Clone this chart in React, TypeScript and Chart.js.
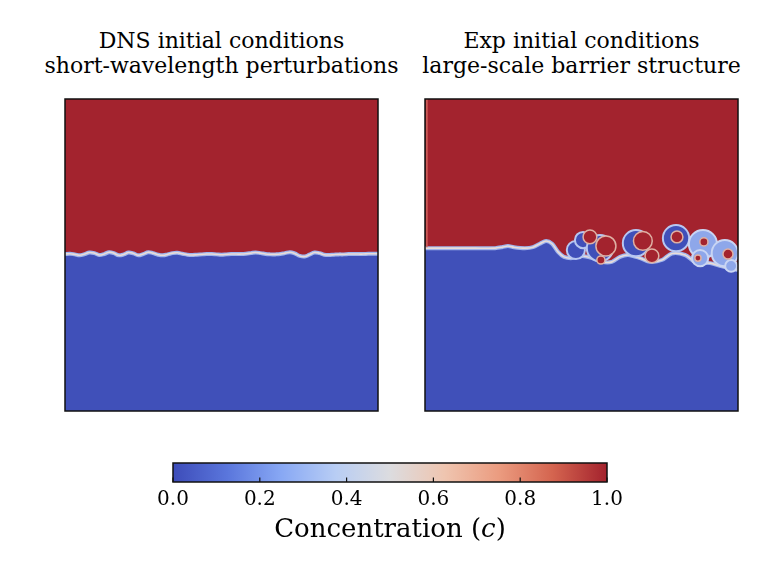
import React, { useEffect, useRef } from "react";
import { Chart, registerables } from "chart.js";

Chart.register(...registerables);

// ---------------- data ----------------
// DNS panel: interface height (fraction of domain height) along x
const dnsX = [
  0.0, 0.016, 0.031, 0.047, 0.063, 0.078, 0.094, 0.109, 0.125, 0.141, 0.156, 0.172, 0.188,
  0.203, 0.219, 0.234, 0.25, 0.266, 0.281, 0.297, 0.313, 0.328, 0.344, 0.359, 0.375, 0.391,
  0.406, 0.422, 0.438, 0.453, 0.469, 0.484, 0.5, 0.516, 0.531, 0.547, 0.563, 0.578, 0.594,
  0.609, 0.625, 0.641, 0.656, 0.672, 0.688, 0.703, 0.719, 0.734, 0.75, 0.766, 0.781, 0.797,
  0.813, 0.828, 0.844, 0.859, 0.875, 0.891, 0.906, 0.922, 0.938, 0.953, 0.969, 0.984, 1.0,
];
const dnsInterface = [
  0.503, 0.504, 0.502, 0.499, 0.503, 0.508, 0.506, 0.5, 0.503, 0.509, 0.506, 0.499, 0.502,
  0.508, 0.505, 0.499, 0.503, 0.509, 0.506, 0.501, 0.499, 0.502, 0.506, 0.507, 0.504, 0.501,
  0.5, 0.501, 0.502, 0.503, 0.503, 0.502, 0.501, 0.502, 0.503, 0.503, 0.503, 0.504, 0.506,
  0.508, 0.506, 0.503, 0.502, 0.502, 0.503, 0.506, 0.509, 0.505, 0.497, 0.495, 0.501, 0.508,
  0.506, 0.501, 0.5, 0.501, 0.502, 0.502, 0.503, 0.503, 0.503, 0.503, 0.504, 0.504, 0.504,
];

// Exp panel: base interface
const expX = [
  0.0, 0.08, 0.16, 0.224, 0.246, 0.265, 0.284, 0.319, 0.345, 0.367, 0.387, 0.406, 0.425,
  0.444, 0.47, 0.502, 0.534, 0.565, 0.597, 0.623, 0.649, 0.687, 0.719, 0.757, 0.789, 0.831,
  0.863, 0.911, 0.942, 1.0,
];
const expInterface = [
  0.522, 0.522, 0.522, 0.522, 0.525, 0.529, 0.525, 0.522, 0.525, 0.536, 0.545, 0.536, 0.51,
  0.494, 0.49, 0.497, 0.49, 0.478, 0.478, 0.494, 0.5, 0.49, 0.478, 0.484, 0.505, 0.5, 0.478,
  0.474, 0.465, 0.452,
];
// roll-up vortices: [x, y, size]
const expBlueRolls = [
  [0.482, 0.516, 0.029],
  [0.505, 0.548, 0.026],
  [0.559, 0.522, 0.042],
  [0.674, 0.538, 0.042],
  [0.802, 0.554, 0.042],
];
const expMixedRolls = [
  [0.888, 0.535, 0.045],
  [0.958, 0.506, 0.042],
  [0.879, 0.49, 0.026],
  [0.978, 0.465, 0.019],
];
const expRedCores = [
  [0.527, 0.558, 0.022],
  [0.578, 0.529, 0.032],
  [0.562, 0.484, 0.013],
  [0.696, 0.545, 0.03],
  [0.725, 0.497, 0.022],
  [0.805, 0.558, 0.019],
  [0.891, 0.542, 0.013],
  [0.968, 0.503, 0.016],
  [0.872, 0.49, 0.01],
];
const expEdgeStripe = [
  [0.006, 0.525],
  [0.006, 1.0],
];

// colour bar
const cbarStops = [0, 0.125, 0.25, 0.375, 0.5, 0.625, 0.75, 0.875, 1];
const cbarColors = [
  "#3d4cb9", "#5a76dc", "#88a8f4", "#b8cdf4", "#dcdcdf", "#efc5b0", "#eb9c80", "#d4644f", "#a3222d",
];
const cbarTicks = [0, 0.2, 0.4, 0.6, 0.8, 1.0];

// ---------------- styles ----------------
const RED = "#a3232e";
const BLUE = "#4050b9";
const SERIF = '"DejaVu Serif", serif';
const NONE = "rgba(0,0,0,0)";

const framePlugin = {
  id: "frame",
  afterDatasetsDraw(chart: any) {
    const a = chart.chartArea;
    const c = chart.ctx;
    c.save();
    c.strokeStyle = "#111";
    c.lineWidth = 1.5;
    c.strokeRect(a.left, a.top, a.right - a.left, a.bottom - a.top);
    c.restore();
  },
};

const inTicksPlugin = {
  id: "inTicks",
  afterDatasetsDraw(chart: any) {
    const a = chart.chartArea;
    const s = chart.scales.x;
    const c = chart.ctx;
    c.save();
    c.strokeStyle = "#111";
    c.lineWidth = 1.2;
    s.ticks.forEach((t: any) => {
      const px = s.getPixelForValue(t.value);
      c.beginPath();
      c.moveTo(px, a.bottom);
      c.lineTo(px, a.bottom - 4.5);
      c.stroke();
    });
    c.restore();
  },
};

const sizeToRadius = (ctx: any) => {
  const raw = ctx.raw;
  if (!raw) return 0;
  const s = ctx.chart.scales.x;
  return Math.abs(s.getPixelForValue(raw.s) - s.getPixelForValue(0));
};

const toPts = (xs: number[], ys: number[]) => xs.map((x, i) => ({ x, y: ys[i] }));
const rollPts = (arr: number[][]) => arr.map(([x, y, s]) => ({ x, y, s }));

function interfaceSets(xs: number[], ys: number[], tension: number) {
  const pts = toPts(xs, ys);
  const base = { type: "line", data: pts, pointRadius: 0, tension };
  return [
    { ...base, fill: "end", backgroundColor: RED, borderColor: NONE, borderWidth: 0, order: 20 },
    { ...base, fill: "start", backgroundColor: BLUE, borderColor: NONE, borderWidth: 0, order: 19 },
    { ...base, fill: false, borderColor: "#9fb5ee", borderWidth: 4, order: 18 },
    { ...base, fill: false, borderColor: "#e9dcd8", borderWidth: 1.6, order: 17 },
  ];
}

function rollSet(arr: number[][], fillC: string, borderC: string, bw: number, order: number) {
  return {
    type: "scatter",
    data: rollPts(arr),
    pointRadius: sizeToRadius,
    pointHoverRadius: sizeToRadius,
    pointBackgroundColor: fillC,
    pointBorderColor: borderC,
    pointBorderWidth: bw,
    clip: 0,
    order,
  };
}

function dnsDatasets() {
  return interfaceSets(dnsX, dnsInterface, 0.4);
}

function expDatasets() {
  return [
    ...interfaceSets(expX, expInterface, 0.3),
    rollSet(expBlueRolls, BLUE, "#b7c7f1", 2, 10),
    rollSet(expMixedRolls, "#8ea7ea", "#c9d5f3", 2, 9),
    rollSet(expRedCores, RED, "#dfb0a4", 1.5, 8),
    {
      type: "line",
      data: expEdgeStripe.map(([x, y]) => ({ x, y })),
      borderColor: "#d0625c",
      borderWidth: 1.5,
      pointRadius: 0,
      fill: false,
      order: 5,
    },
  ];
}

function Panel({ left, top, build }: { left: number; top: number; build: () => any[] }) {
  const ref = useRef<HTMLCanvasElement>(null);
  useEffect(() => {
    const chart = new Chart(ref.current as HTMLCanvasElement, {
      type: "scatter",
      data: { datasets: build() as any },
      options: {
        responsive: false,
        animation: false,
        events: [],
        layout: { padding: 1 },
        scales: {
          x: { type: "linear", min: 0, max: 1, display: false },
          y: { type: "linear", min: 0, max: 1, display: false },
        },
        plugins: { legend: { display: false }, tooltip: { enabled: false } },
      },
      plugins: [framePlugin],
    } as any);
    return () => chart.destroy();
  }, []);
  return (
    <canvas
      ref={ref}
      width={315}
      height={314}
      style={{ position: "absolute", left, top, width: 315, height: 314 }}
    />
  );
}

function ColorBar() {
  const ref = useRef<HTMLCanvasElement>(null);
  useEffect(() => {
    const gradient = (ctx: any) => {
      const ch = ctx.chart;
      if (!ch.chartArea) return cbarColors[0];
      const s = ch.scales.x;
      const g = ch.ctx.createLinearGradient(s.getPixelForValue(0), 0, s.getPixelForValue(1), 0);
      cbarStops.forEach((v, i) => g.addColorStop(v, cbarColors[i]));
      return g;
    };
    const chart = new Chart(ref.current as HTMLCanvasElement, {
      type: "line",
      data: {
        datasets: [
          {
            data: cbarStops.map((x) => ({ x, y: 1 })),
            fill: "start",
            backgroundColor: gradient,
            borderColor: NONE,
            borderWidth: 0,
            pointRadius: 0,
          },
        ],
      },
      options: {
        responsive: false,
        animation: false,
        events: [],
        layout: { padding: { left: 24, right: 24, top: 8, bottom: 0 } },
        scales: {
          x: {
            type: "linear",
            min: 0,
            max: 1,
            position: "bottom",
            grid: { display: false, drawTicks: false },
            border: { display: false },
            afterBuildTicks: (s: any) => {
              s.ticks = cbarTicks.map((v) => ({ value: v }));
            },
            afterFit: (s: any) => {
              s.height = 34;
            },
            ticks: {
              autoSkip: false,
              maxRotation: 0,
              padding: 6,
              color: "#000",
              font: { family: SERIF, size: 20 },
              callback: (v: any) => Number(v).toFixed(1),
            },
          },
          y: { type: "linear", min: 0, max: 1, display: false },
        },
        plugins: { legend: { display: false }, tooltip: { enabled: false } },
      },
      plugins: [framePlugin, inTicksPlugin],
    } as any);
    return () => chart.destroy();
  }, []);
  return (
    <canvas
      ref={ref}
      width={482}
      height={61}
      style={{ position: "absolute", left: 149, top: 455, width: 482, height: 61 }}
    />
  );
}

const titleStyle = (center: number): React.CSSProperties => ({
  position: "absolute",
  left: center - 200,
  width: 400,
  top: 28,
  textAlign: "center",
  fontFamily: SERIF,
  fontSize: 22,
  lineHeight: "25px",
  whiteSpace: "nowrap",
  color: "#000",
});

export default function App() {
  return (
    <div
      style={{
        position: "absolute",
        left: 0,
        top: 0,
        width: 776,
        height: 570,
        background: "#fff",
        overflow: "hidden",
      }}
    >
      <div style={titleStyle(221.5)}>
        DNS initial conditions
        <br />
        short-wavelength perturbations
      </div>
      <div style={titleStyle(581.5)}>
        Exp initial conditions
        <br />
        large-scale barrier structure
      </div>
      <Panel left={64} top={98} build={dnsDatasets} />
      <Panel left={424} top={98} build={expDatasets} />
      <ColorBar />
      <div
        style={{
          position: "absolute",
          left: 190,
          width: 400,
          top: 515,
          textAlign: "center",
          fontFamily: SERIF,
          fontSize: 26,
          lineHeight: "26px",
          whiteSpace: "nowrap",
          color: "#000",
        }}
      >
        Concentration (<i>c</i>)
      </div>
    </div>
  );
}
